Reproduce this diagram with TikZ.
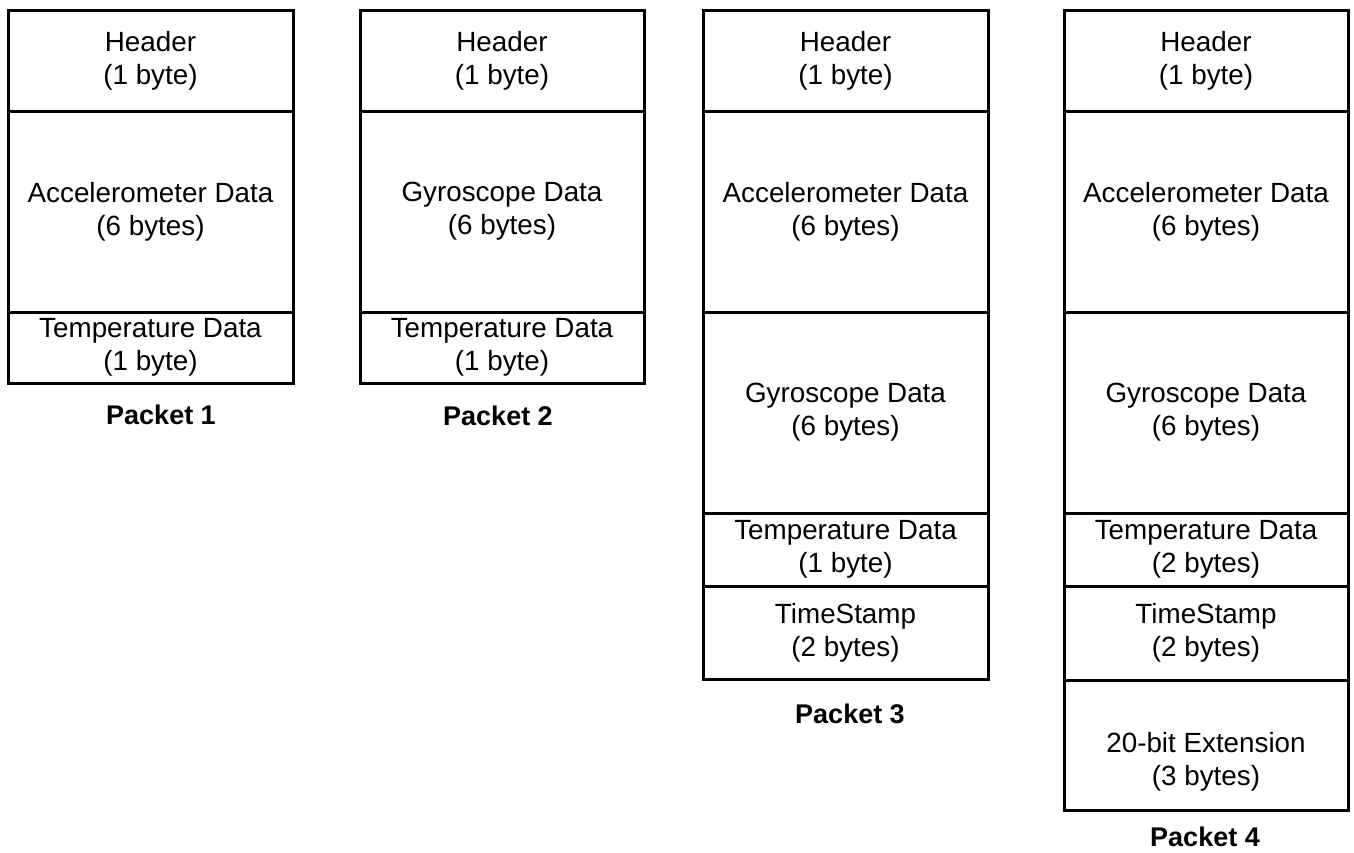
\documentclass[tikz,border=0pt]{standalone}
\usepackage{fontspec}
\setmainfont{Liberation Sans}
\begin{document}
\begin{tikzpicture}[x=1pt,y=-1pt,
  cell/.style={draw=black, line width=3pt, anchor=north west, inner sep=0pt, outer sep=0pt,
    align=center, font=\fontsize{27.8}{33}\selectfont},
  lbl/.style={font=\fontsize{27}{32}\selectfont\bfseries, inner sep=0pt},
  txt/.style={align=center, inner sep=0pt, font=\fontsize{27.8}{33}\selectfont}]
\useasboundingbox (0,0) rectangle (1354,852);
% Packet 1
\node[cell, minimum width=285pt, minimum height=101pt] (p1h) at (8,10) {Header\\(1 byte)};
\node[cell, minimum width=285pt, minimum height=201pt] (p1a) at (8,111) {Accelerometer Data\\(6 bytes)};
\node[cell, minimum width=285pt, minimum height=71pt] (p1t) at (8,312) {Temperature Data\\(1 byte)};
\node[lbl] (p1l) at (161,415) {Packet 1};
% Packet 2
\node[cell, minimum width=284pt, minimum height=101pt] (p2h) at (360,10) {Header\\(1 byte)};
\node[cell, minimum width=284pt, minimum height=201pt] (p2g) at (360,111) {Gyroscope Data\\(6 bytes)};
\node[cell, minimum width=284pt, minimum height=71pt] (p2t) at (360,312) {Temperature Data\\(1 byte)};
\node[lbl] (p2l) at (498,416) {Packet 2};
% Packet 3
\node[cell, minimum width=285pt, minimum height=101pt] (p3h) at (703,10) {Header\\(1 byte)};
\node[cell, minimum width=285pt, minimum height=201pt] (p3a) at (703,111) {Accelerometer Data\\(6 bytes)};
\node[cell, minimum width=285pt, minimum height=201pt] (p3g) at (703,312) {Gyroscope Data\\(6 bytes)};
\node[cell, minimum width=285pt, minimum height=73pt] (p3t) at (703,513) {Temperature Data\\(1 byte)};
\node[cell, minimum width=285pt, minimum height=93pt] (p3s) at (703,586) {TimeStamp\\(2 bytes)};
\node[lbl] (p3l) at (850,714) {Packet 3};
% Packet 4
\node[cell, minimum width=284pt, minimum height=101pt] (p4h) at (1064,10) {Header\\(1 byte)};
\node[cell, minimum width=284pt, minimum height=201pt] (p4a) at (1064,111) {Accelerometer Data\\(6 bytes)};
\node[cell, minimum width=284pt, minimum height=201pt] (p4g) at (1064,312) {Gyroscope Data\\(6 bytes)};
\node[cell, minimum width=284pt, minimum height=73pt] (p4t) at (1064,513) {Temperature Data\\(2 bytes)};
\node[cell, minimum width=284pt, minimum height=94pt] (p4s) at (1064,586) {TimeStamp\\(2 bytes)};
\node[cell, minimum width=284pt, minimum height=130pt] (p4e) at (1064,680) {};
\node[txt] (p4et) at (1206,762) {20-bit Extension\\(3 bytes)};
\node[lbl] (p4l) at (1205,837) {Packet 4};
\end{tikzpicture}
\end{document}
